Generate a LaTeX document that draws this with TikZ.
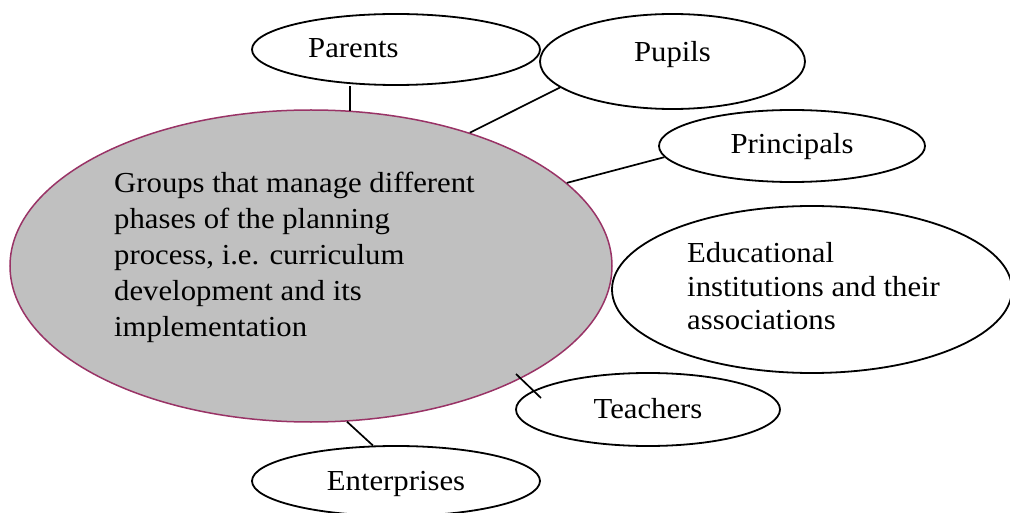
\documentclass[tikz,border=0pt]{standalone}
\usepackage{fontspec}
\setmainfont[FakeStretch=1.06]{Liberation Serif}
\usetikzlibrary{shapes.geometric,calc}
\definecolor{rim}{RGB}{153,51,102}
\definecolor{hub}{RGB}{192,192,192}
\tikzset{
  bubble/.style={ellipse, draw=black, line width=1.8pt, fill=white, inner sep=0pt},
  hubshape/.style={ellipse, draw=rim, line width=1.5pt, fill=hub, inner sep=0pt},
  txt/.style={inner sep=0pt, font=\fontsize{29}{36}\selectfont, text=black},
  link/.style={draw=black, line width=1.7pt},
}
\begin{document}
\begin{tikzpicture}[x=1pt,y=-1pt]
\useasboundingbox (0,0) rectangle (1010,513);
% shapes
\node[hubshape, minimum width=602pt, minimum height=312pt] (main) at (311,266) {};
\node[bubble, minimum width=288pt, minimum height=71pt] (parents) at (396,49.5) {};
\node[bubble, minimum width=265pt, minimum height=95pt] (pupils) at (672.5,61.5) {};
\node[bubble, minimum width=266pt, minimum height=72pt] (principals) at (792,146) {};
\node[bubble, minimum width=400pt, minimum height=167pt] (edu) at (812,289.5) {};
\node[bubble, minimum width=264pt, minimum height=73pt] (teachers) at (648,409.5) {};
\node[bubble, minimum width=288pt, minimum height=70pt] (enterprises) at (396,481) {};
% texts
\node[txt, anchor=base west, align=left] (mainT) at (114,336) {Groups that manage different\\phases of the planning\\process, i.e. curriculum\\development and its\\implementation};
\node[txt, anchor=base west] (parentsT) at (308,58) {Parents};
\node[txt, anchor=base] (pupilsT) at (672.5,61.7) {Pupils};
\node[txt, anchor=base] (principalsT) at (792,154) {Principals};
\node[txt, anchor=base west, align=left, font=\fontsize{29}{33.5}\selectfont] (eduT) at (687,330) {Educational\\institutions and their\\associations};
\node[txt, anchor=base] (teachersT) at (648,418) {Teachers};
\node[txt, anchor=base] (enterprisesT) at (396,490) {Enterprises};
% connector ends
\coordinate (teachTail) at (516,374);
\coordinate (teachTip) at (541,398);
% connectors
\draw[link] (main.76.6) -- (main.76.6 |- parents.south);
\draw[link] (main.40.3) -- (pupils.193);
\draw[link] (main.18.3) -- (principals.185.2);
\draw[link] (teachTail) -- (teachTip);
\draw[link] (main.283.4) -- (enterprises.123.3);
\end{tikzpicture}
\end{document}
